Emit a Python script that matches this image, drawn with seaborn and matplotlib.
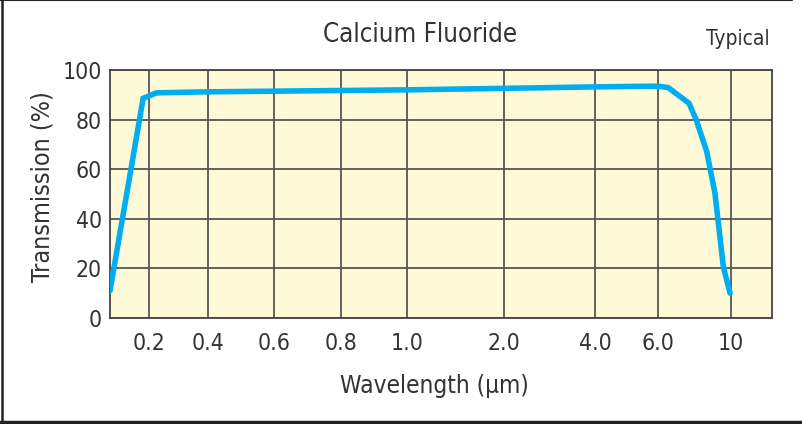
import numpy as np
import pandas as pd
import matplotlib
matplotlib.use('Agg')
import matplotlib.pyplot as plt
import seaborn as sns

# dane
wavelength = [0.13, 0.19, 0.227, 0.4, 1.0, 2.0, 4.0, 6.0, 6.56, 7.7, 8.1, 8.67, 9.12, 9.58, 9.95]
transmission = [11, 88.6, 90.8, 91.2, 92.0, 92.6, 93.2, 93.5, 92.9, 86.6, 79.8, 67.1, 50.3, 20.7, 10]

tick_values = [0.2, 0.4, 0.6, 0.8, 1.0, 2.0, 4.0, 6.0, 10]
tick_labels = ['0.2', '0.4', '0.6', '0.8', '1.0', '2.0', '4.0', '6.0', '10']

# os x w oryginale jest nieregularna - odwzorowanie kawalkami liniowe
knot_wl = [0.13, 0.2, 0.4, 0.6, 0.8, 1.0, 2.0, 4.0, 6.0, 10, 12.5]
knot_pos = [0, 38.7, 97.7, 164, 230.7, 297, 394.3, 485.3, 548, 621, 662]


def fwd(x):
    return np.interp(x, knot_wl, knot_pos)


def inv(p):
    return np.interp(p, knot_pos, knot_wl)


df = pd.DataFrame({'wl': wavelength, 'T': transmission})

sns.set_style('white')
plt.rcParams['font.family'] = ['DejaVu Sans']
plt.rcParams['font.stretch'] = 'condensed'
text_col = '#333333'
grid_col = '#555555'

fig = plt.figure(figsize=(8.02, 4.24), dpi=100)
ax = fig.add_axes([110 / 802, 1 - 318 / 424, 662 / 802, 248 / 424])
ax.set_facecolor('#fefad8')
ax.set_xscale('function', functions=(fwd, inv))
ax.set_xlim(0.13, 12.5)
ax.set_ylim(0, 100)

sns.lineplot(data=df, x='wl', y='T', ax=ax, color='#00aeef', lw=4,
             solid_joinstyle='miter', zorder=5)

ax.set_xticks(tick_values)
ax.set_xticklabels(tick_labels)
ax.set_yticks([0, 20, 40, 60, 80, 100])
ax.grid(True, color=grid_col, lw=1.3)
ax.tick_params(length=0, labelsize=16.5, colors=text_col, pad=6)
ax.tick_params(axis='x', pad=10)
for s in ax.spines.values():
    s.set_color('#444444')
    s.set_linewidth(1.3)

ax.set_xlabel('Wavelength (µm)', fontsize=17.5, color=text_col)
ax.xaxis.set_label_coords(0.49, -0.225)
ax.set_ylabel('Transmission (%)', fontsize=18, color=text_col)
ax.yaxis.set_label_coords(-0.084, 0.532)

fig.text(420 / 802, 1 - 35 / 424, 'Calcium Fluoride', fontsize=18.5, color=text_col,
         ha='center', va='center')
fig.text(770 / 802, 1 - 39 / 424, 'Typical', fontsize=15, color=text_col,
         ha='right', va='center')

# ramka wokol rysunku
fig.add_artist(plt.Line2D([0, 0.988], [0.999, 0.999], color='#222222', lw=1.5, transform=fig.transFigure))
fig.add_artist(plt.Line2D([0, 1], [0.004, 0.004], color='#222222', lw=2.5, transform=fig.transFigure))
fig.add_artist(plt.Line2D([0.002, 0.002], [0, 1], color='#222222', lw=1.8, transform=fig.transFigure))

fig.savefig('out.png', dpi=100)
